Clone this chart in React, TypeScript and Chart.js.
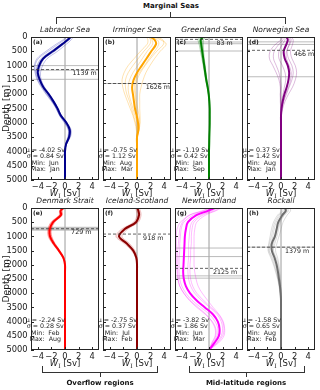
import React, { useEffect, useRef } from 'react';
import { Chart, registerables } from 'chart.js';
Chart.register(...registerables);

// ---------- DATA ----------
const depths = [0, 100, 250, 500, 750, 1000, 1250, 1500, 1750, 2000, 2250, 2500, 2750, 3000, 3250, 3500, 3750, 4000, 4250, 4500, 4750, 5000];
const xTickValues = [-4, -2, 0, 2, 4];
const yTickValues = [0, 500, 1000, 1500, 2000, 2500, 3000, 3500, 4000, 4500, 5000];

const labradorMean = [0.8, 0.4, -0.4, -1.8, -3.2, -3.8, -4.0, -3.7, -3.2, -2.4, -1.7, -1.1, -0.6, 0.2, 0.7, 0.6, 0.15, 0, 0, 0, 0, 0];
const labradorMonths = [
  [1.2, 0.9, 0.2, -1.1, -2.6, -3.3, -3.6, -3.5, -3.0, -2.3, -1.6, -1.0, -0.5, 0.3, 0.9, 0.8, 0.2, 0, 0, 0, 0, 0],
  [1.0, 0.6, -0.2, -1.5, -3.0, -3.6, -3.8, -3.6, -3.1, -2.4, -1.7, -1.1, -0.6, 0.2, 0.7, 0.7, 0.2, 0, 0, 0, 0, 0],
  [0.6, 0.2, -0.6, -2.1, -3.5, -4.1, -4.2, -3.9, -3.3, -2.6, -1.9, -1.2, -0.7, 0.1, 0.6, 0.5, 0.1, 0, 0, 0, 0, 0],
  [0.3, -0.1, -1.0, -2.5, -3.9, -4.4, -4.3, -4.0, -3.4, -2.7, -1.9, -1.3, -0.8, 0.0, 0.5, 0.5, 0.1, 0, 0, 0, 0, 0],
  [0.9, 0.5, -0.3, -1.8, -3.3, -4.0, -4.1, -3.8, -3.2, -2.5, -1.8, -1.1, -0.6, 0.3, 0.8, 0.7, 0.2, 0, 0, 0, 0, 0],
  [0.1, -0.3, -1.3, -2.8, -4.1, -4.5, -4.4, -4.1, -3.5, -2.8, -2.0, -1.3, -0.8, -0.1, 0.5, 0.4, 0.1, 0, 0, 0, 0, 0],
];
const labradorDashed = 1139;
const labradorGray = [1000, 1160, 1480];
const labradorStats = ['μ = -4.02 Sv', 'σ = 0.84 Sv', 'Min:  Jun', 'Max:  Jan'];

const irmingerMean = [2.0, 2.6, 2.8, 2.1, 1.4, 0.7, 0.0, -0.5, -0.72, -0.6, -0.45, -0.3, -0.05, 0.15, 0.2, 0, 0, 0, 0, 0, 0, 0];
const irmingerMonths = [
  [2.5, 3.5, 4.3, 3.4, 2.6, 1.9, 1.3, 0.9, 0.6, 0.4, 0.4, 0.4, 0.45, 0.45, 0.3, 0, 0, 0, 0, 0, 0, 0],
  [1.4, 1.6, 1.5, 0.5, -0.4, -1.3, -1.9, -2.2, -2.1, -1.8, -1.4, -1.0, -0.6, -0.3, -0.1, 0, 0, 0, 0, 0, 0, 0],
  [2.2, 3.0, 3.2, 2.6, 1.8, 1.1, 0.3, -0.2, -0.4, -0.3, -0.2, -0.1, 0.1, 0.3, 0.3, 0, 0, 0, 0, 0, 0, 0],
  [1.8, 2.2, 2.3, 1.5, 0.8, 0.1, -0.6, -1.1, -1.3, -1.2, -0.9, -0.6, -0.3, 0.0, 0.1, 0, 0, 0, 0, 0, 0, 0],
  [2.8, 3.8, 3.9, 2.9, 2.0, 1.2, 0.5, 0.0, -0.2, -0.2, -0.1, 0.1, 0.3, 0.4, 0.2, 0, 0, 0, 0, 0, 0, 0],
  [1.6, 2.0, 1.9, 1.0, 0.2, -0.6, -1.3, -1.7, -1.7, -1.5, -1.1, -0.8, -0.5, -0.2, 0.0, 0, 0, 0, 0, 0, 0, 0],
];
const irmingerDashed = 1626;
const irmingerGray = [1626];
const irmingerStats = ['μ = -0.75 Sv', 'σ = 1.12 Sv', 'Min:  Aug', 'Max:  Mar'];

const greenlandMean = [-0.9, -1.2, -1.15, -1.0, -0.85, -0.7, -0.55, -0.4, -0.2, -0.05, 0.05, 0.1, 0.1, 0.1, 0.08, 0.05, 0.03, 0, 0, 0, 0, 0];
const greenlandMonths = [
  [-0.5, -0.8, -0.85, -0.8, -0.7, -0.55, -0.45, -0.3, -0.15, 0, 0.1, 0.12, 0.12, 0.1, 0.08, 0.05, 0.03, 0, 0, 0, 0, 0],
  [-1.3, -1.6, -1.45, -1.25, -1.05, -0.85, -0.68, -0.5, -0.28, -0.1, 0.02, 0.08, 0.1, 0.1, 0.08, 0.05, 0.03, 0, 0, 0, 0, 0],
  [-0.7, -1.0, -1.0, -0.9, -0.78, -0.62, -0.5, -0.35, -0.18, -0.03, 0.06, 0.1, 0.1, 0.1, 0.08, 0.05, 0.03, 0, 0, 0, 0, 0],
  [-1.1, -1.4, -1.3, -1.12, -0.95, -0.78, -0.62, -0.46, -0.24, -0.07, 0.04, 0.09, 0.1, 0.1, 0.08, 0.05, 0.03, 0, 0, 0, 0, 0],
];
const greenlandDashed = 83;
const greenlandGray = [175, 235, 490];
const greenlandStats = ['μ = -1.19 Sv', 'σ = 0.42 Sv', 'Min:  Jan', 'Max:  Sep'];

const norwegianMean = [0.8, 1.0, 0.8, 0.4, 0.55, 1.0, 1.2, 1.1, 0.85, 0.5, 0.25, 0.08, 0, 0, 0, 0, 0, 0, 0, 0, 0, 0];
const norwegianMonths = [
  [1.5, 1.8, 1.7, 1.4, 1.6, 2.1, 2.3, 2.1, 1.7, 1.1, 0.6, 0.25, 0.05, 0, 0, 0, 0, 0, 0, 0, 0, 0],
  [0.2, 0.3, -0.3, -1.0, -1.1, -0.7, -0.3, -0.1, 0.0, -0.1, -0.1, -0.05, 0, 0, 0, 0, 0, 0, 0, 0, 0, 0],
  [1.0, 1.3, 1.2, 0.9, 1.1, 1.6, 1.8, 1.6, 1.2, 0.8, 0.4, 0.15, 0.02, 0, 0, 0, 0, 0, 0, 0, 0, 0],
  [0.5, 0.6, 0.2, -0.3, -0.3, 0.2, 0.6, 0.7, 0.5, 0.3, 0.1, 0.02, 0, 0, 0, 0, 0, 0, 0, 0, 0, 0],
  [1.3, 1.5, 1.3, 0.8, 0.8, 1.2, 1.5, 1.4, 1.1, 0.7, 0.35, 0.1, 0, 0, 0, 0, 0, 0, 0, 0, 0, 0],
  [0.0, 0.0, -0.8, -1.6, -1.7, -1.2, -0.7, -0.3, -0.1, -0.1, -0.05, 0, 0, 0, 0, 0, 0, 0, 0, 0, 0, 0],
];
const norwegianDashed = 466;
const norwegianGray = [170, 260, 1390];
const norwegianStats = ['μ = 0.37 Sv', 'σ = 1.42 Sv', 'Min:  Aug', 'Max:  Jan'];

const denmarkMean = [-0.25, -0.65, -0.6, -1.75, -2.24, -2.2, -1.65, -0.9, -0.25, 0, 0, 0, 0, 0, 0, 0, 0, 0, 0, 0, 0, 0];
const denmarkMonths = [
  [-0.1, -0.4, -0.4, -1.5, -2.0, -1.95, -1.45, -0.75, -0.15, 0, 0, 0, 0, 0, 0, 0, 0, 0, 0, 0, 0, 0],
  [-0.4, -0.8, -0.85, -2.05, -2.5, -2.45, -1.85, -1.05, -0.3, 0, 0, 0, 0, 0, 0, 0, 0, 0, 0, 0, 0, 0],
  [-0.2, -0.55, -0.5, -1.65, -2.1, -2.05, -1.55, -0.85, -0.2, 0, 0, 0, 0, 0, 0, 0, 0, 0, 0, 0, 0, 0],
  [-0.35, -0.7, -0.75, -1.95, -2.4, -2.35, -1.75, -0.95, -0.3, 0, 0, 0, 0, 0, 0, 0, 0, 0, 0, 0, 0, 0],
];
const denmarkDashed = 729;
const denmarkGray = [680, 710, 750, 780];
const denmarkStats = ['μ = -2.24 Sv', 'σ = 0.28 Sv', 'Min:  Feb', 'Max:  Aug'];

const icelandMean = [0.05, 0.2, 0.3, -0.15, -1.85, -2.65, -1.5, -0.55, -0.1, 0, 0, 0, 0, 0, 0, 0, 0, 0, 0, 0, 0, 0];
const icelandMonths = [
  [0.3, 0.5, 0.6, 0.2, -1.4, -2.2, -1.1, -0.3, 0.0, 0, 0, 0, 0, 0, 0, 0, 0, 0, 0, 0, 0, 0],
  [-0.2, -0.1, 0.0, -0.5, -2.3, -3.1, -1.9, -0.8, -0.2, 0, 0, 0, 0, 0, 0, 0, 0, 0, 0, 0, 0, 0],
  [0.15, 0.35, 0.45, 0.05, -1.6, -2.4, -1.3, -0.45, -0.05, 0, 0, 0, 0, 0, 0, 0, 0, 0, 0, 0, 0, 0],
  [-0.1, 0.05, 0.15, -0.35, -2.1, -2.95, -1.7, -0.65, -0.15, 0, 0, 0, 0, 0, 0, 0, 0, 0, 0, 0, 0, 0],
];
const icelandDashed = 918;
const icelandGray: number[] = [];
const icelandStats = ['μ = -2.75 Sv', 'σ = 0.37 Sv', 'Min:  Jul', 'Max:  Feb'];

const newfoundlandMean = [0.8, -0.15, -1.85, -3.1, -3.4, -3.55, -3.6, -3.65, -3.7, -3.75, -3.8, -3.7, -3.4, -2.8, -1.85, -0.6, 0.6, 1.3, 1.55, 1.45, 0.8, 0];
const newfoundlandMonths = [
  [1.8, 1.0, -0.5, -1.8, -2.1, -2.2, -2.2, -2.2, -2.2, -2.2, -2.1, -1.9, -1.6, -1.0, -0.2, 0.6, 1.5, 2.1, 2.3, 2.2, 1.4, 0],
  [0.2, -0.8, -2.8, -4.2, -4.7, -4.8, -4.8, -4.8, -4.8, -4.8, -4.7, -4.6, -4.3, -3.7, -2.8, -1.6, -0.4, 0.4, 0.9, 0.9, 0.4, 0],
  [1.2, 0.4, -1.2, -2.5, -2.8, -2.9, -3.0, -3.0, -3.0, -3.1, -3.1, -3.0, -2.7, -2.1, -1.1, 0.1, 1.2, 1.8, 2.0, 1.8, 1.1, 0],
  [0.5, -0.5, -2.3, -3.7, -4.1, -4.2, -4.3, -4.3, -4.4, -4.4, -4.4, -4.3, -4.0, -3.4, -2.5, -1.2, 0.1, 0.9, 1.3, 1.2, 0.6, 0],
  [1.5, 0.8, -0.9, -2.2, -2.5, -2.6, -2.6, -2.7, -2.7, -2.8, -2.8, -2.7, -2.4, -1.8, -0.8, 0.3, 1.4, 2.0, 2.2, 2.0, 1.2, 0],
  [0.0, -1.0, -2.9, -3.9, -4.3, -4.4, -4.5, -4.6, -4.6, -4.6, -4.6, -4.5, -4.3, -3.7, -2.9, -1.8, -0.5, 0.5, 1.0, 1.0, 0.5, 0],
];
const newfoundlandDashed = 2125;
const newfoundlandGray = [1410, 1710, 2390, 2470];
const newfoundlandStats = ['μ = -3.82 Sv', 'σ = 1.86 Sv', 'Min:  Jun', 'Max:  Mar'];

const rockallMean = [0.6, 0.7, 0.2, -0.4, -0.65, -0.9, -1.35, -1.35, -0.95, -0.65, -0.45, -0.3, -0.15, -0.05, 0, 0, 0, 0, 0, 0, 0, 0];
const rockallMonths = [
  [1.3, 1.4, 0.9, 0.3, 0.0, -0.3, -0.6, -0.8, -0.5, -0.3, -0.2, -0.1, 0, 0, 0, 0, 0, 0, 0, 0, 0, 0],
  [-0.1, 0.1, -0.5, -1.1, -1.4, -1.6, -1.8, -1.9, -1.5, -1.1, -0.8, -0.5, -0.3, -0.15, -0.05, 0, 0, 0, 0, 0, 0, 0],
  [0.9, 1.1, 0.5, -0.1, -0.35, -0.6, -0.9, -1.1, -0.7, -0.4, -0.25, -0.15, -0.05, 0, 0, 0, 0, 0, 0, 0, 0, 0],
  [0.3, 0.5, -0.1, -0.7, -1.0, -1.2, -1.5, -1.7, -1.2, -0.85, -0.6, -0.4, -0.2, -0.1, 0, 0, 0, 0, 0, 0, 0, 0],
  [0.7, 0.9, 0.4, -0.2, -0.5, -0.8, -1.1, -1.2, -0.85, -0.55, -0.35, -0.2, -0.1, 0, 0, 0, 0, 0, 0, 0, 0, 0],
  [0.1, 0.3, -0.3, -0.9, -1.2, -1.4, -1.7, -1.8, -1.35, -1.0, -0.7, -0.45, -0.25, -0.1, 0, 0, 0, 0, 0, 0, 0, 0],
];
const rockallDashed = 1379;
const rockallGray = [1379];
const rockallStats = ['μ = -1.58 Sv', 'σ = 0.65 Sv', 'Min:  Aug', 'Max:  Feb'];

// ---------- LAYOUT / STYLE ----------
const FONT = 'DejaVu Sans';
const COL_LEFT = [31, 103, 175, 247];
const ROW_TOP = [37, 208];
const ROW_H = [143, 142];
const PLOT_W = 68;
const M_LEFT = 31, M_RIGHT = 5, M_TOP = 14, M_BOTTOM = 22;

type Panel = {
  title: string; letter: string; color: string; thin: string;
  mean: number[]; months: number[][]; dashed: number; gray: number[];
  labelX: number; stats: string[]; col: number; row: number;
};

const panels: Panel[] = [
  { title: 'Labrador Sea', letter: '(a)', color: '#00008b', thin: 'rgba(0,0,160,0.28)', mean: labradorMean, months: labradorMonths, dashed: labradorDashed, gray: labradorGray, labelX: 1.1, stats: labradorStats, col: 0, row: 0 },
  { title: 'Irminger Sea', letter: '(b)', color: '#ffa500', thin: 'rgba(255,165,0,0.35)', mean: irmingerMean, months: irmingerMonths, dashed: irmingerDashed, gray: irmingerGray, labelX: 1.3, stats: irmingerStats, col: 1, row: 0 },
  { title: 'Greenland Sea', letter: '(c)', color: '#008000', thin: 'rgba(0,128,0,0.35)', mean: greenlandMean, months: greenlandMonths, dashed: greenlandDashed, gray: greenlandGray, labelX: 1.1, stats: greenlandStats, col: 2, row: 0 },
  { title: 'Norwegian Sea', letter: '(d)', color: '#800080', thin: 'rgba(128,0,128,0.3)', mean: norwegianMean, months: norwegianMonths, dashed: norwegianDashed, gray: norwegianGray, labelX: 1.9, stats: norwegianStats, col: 3, row: 0 },
  { title: 'Denmark Strait', letter: '(e)', color: '#ff0000', thin: 'rgba(255,0,0,0.4)', mean: denmarkMean, months: denmarkMonths, dashed: denmarkDashed, gray: denmarkGray, labelX: 0.9, stats: denmarkStats, col: 0, row: 1 },
  { title: 'Iceland-Scotland', letter: '(f)', color: '#8b0000', thin: 'rgba(200,40,40,0.3)', mean: icelandMean, months: icelandMonths, dashed: icelandDashed, gray: icelandGray, labelX: 0.9, stats: icelandStats, col: 1, row: 1 },
  { title: 'Newfoundland', letter: '(g)', color: '#ff00ff', thin: 'rgba(255,0,255,0.3)', mean: newfoundlandMean, months: newfoundlandMonths, dashed: newfoundlandDashed, gray: newfoundlandGray, labelX: 0.6, stats: newfoundlandStats, col: 2, row: 1 },
  { title: 'Rockall', letter: '(h)', color: '#6e6e6e', thin: 'rgba(128,128,128,0.3)', mean: rockallMean, months: rockallMonths, dashed: rockallDashed, gray: rockallGray, labelX: 0.6, stats: rockallStats, col: 3, row: 1 },
];

const fmtX = (v: number) => (v < 0 ? '\u2212' + Math.abs(v) : String(v));

function PanelChart({ p }: { p: Panel }) {
  const ref = useRef<HTMLCanvasElement | null>(null);
  const w = M_LEFT + PLOT_W + M_RIGHT;
  const h = M_TOP + ROW_H[p.row] + M_BOTTOM;
  const left = COL_LEFT[p.col] - M_LEFT;
  const top = ROW_TOP[p.row] - M_TOP;

  useEffect(() => {
    const canvas = ref.current!;
    const toPts = (vals: number[]) => vals.map((v, i) => ({ x: v, y: depths[i] }));
    const base = { showLine: true, pointRadius: 0, fill: false };
    const datasets: any[] = [];
    datasets.push({ ...base, data: [{ x: 0, y: 0 }, { x: 0, y: 5000 }], borderColor: '#c6c6c6', borderWidth: 1, order: 10, tension: 0 });
    p.gray.forEach((d) => datasets.push({ ...base, data: [{ x: -5, y: d }, { x: 5, y: d }], borderColor: '#a9a9a9', borderWidth: 0.8, order: 9, tension: 0 }));
    p.months.forEach((m) => datasets.push({ ...base, data: toPts(m), borderColor: p.thin, borderWidth: 0.9, order: 5, tension: 0.35 }));
    datasets.push({ ...base, data: toPts(p.mean), borderColor: p.color, borderWidth: 2, order: 2, tension: 0.35 });
    datasets.push({ ...base, data: [{ x: -5, y: p.dashed }, { x: 5, y: p.dashed }], borderColor: '#3a3a3a', borderWidth: 0.8, borderDash: [3, 2], order: 1, tension: 0 });

    const decor = {
      id: 'decor',
      afterDraw(chart: any) {
        const { ctx, chartArea: a, scales } = chart;
        const xs = scales.x, ys = scales.y;
        ctx.save();
        ctx.strokeStyle = '#262626';
        ctx.lineWidth = 1;
        ctx.strokeRect(a.left + 0.5, a.top + 0.5, a.right - a.left - 1, a.bottom - a.top - 1);
        ctx.beginPath();
        ys.ticks.forEach((t: any) => {
          const y = Math.round(ys.getPixelForValue(t.value)) + 0.5;
          ctx.moveTo(a.left, y); ctx.lineTo(a.left + 3, y);
        });
        xs.ticks.forEach((t: any) => {
          const x = Math.round(xs.getPixelForValue(t.value)) + 0.5;
          ctx.moveTo(x, a.bottom); ctx.lineTo(x, a.bottom - 3);
        });
        ctx.stroke();
        ctx.fillStyle = '#1a1a1a';
        // title
        ctx.font = `italic 7.5px "${FONT}"`;
        ctx.textAlign = 'center';
        ctx.textBaseline = 'middle';
        ctx.fillText(p.title, (a.left + a.right) / 2, a.top - 6.5);
        // letter
        ctx.font = `bold 6px "${FONT}"`;
        ctx.textAlign = 'left';
        ctx.textBaseline = 'top';
        ctx.fillText(p.letter, a.left + 2, a.top + 2);
        // depth label
        ctx.font = `6.3px "${FONT}"`;
        ctx.fillText(`${p.dashed} m`, xs.getPixelForValue(p.labelX), ys.getPixelForValue(p.dashed) + 1);
        // stats
        ctx.textAlign = 'center';
        ctx.textBaseline = 'middle';
        const sx = xs.getPixelForValue(-2.9);
        p.stats.forEach((s, i) => ctx.fillText(s, sx, a.bottom - 30 + i * 6.6));
        // x title W_I [Sv]
        const cy = a.bottom + 14;
        const f1 = `italic 8.5px "${FONT}"`, f2 = `6px "DejaVu Serif"`, f3 = `8.5px "${FONT}"`;
        ctx.font = f1; const w1 = ctx.measureText('W').width;
        ctx.font = f2; const w2 = ctx.measureText('I').width;
        ctx.font = f3; const w3 = ctx.measureText(' [Sv]').width;
        let x0 = (a.left + a.right) / 2 - (w1 + w2 + w3) / 2;
        ctx.textAlign = 'left';
        ctx.font = f1; ctx.fillText('W', x0, cy); x0 += w1;
        ctx.font = f2; ctx.fillText('I', x0, cy + 2.5); x0 += w2;
        ctx.font = f3; ctx.fillText(' [Sv]', x0, cy);
        ctx.restore();
      },
    };

    const chart = new Chart(canvas, {
      type: 'scatter',
      data: { datasets },
      options: {
        responsive: false,
        animation: false,
        events: [],
        layout: { padding: { top: M_TOP, right: M_RIGHT, left: 0, bottom: 0 } },
        plugins: { legend: { display: false }, tooltip: { enabled: false } },
        scales: {
          x: {
            type: 'linear', min: -5, max: 5, position: 'bottom',
            afterBuildTicks: (s: any) => { s.ticks = xTickValues.map((v) => ({ value: v })); },
            afterFit: (s: any) => { s.height = M_BOTTOM; },
            grid: { display: false, drawTicks: false },
            border: { display: false },
            ticks: { callback: (v: any) => fmtX(Number(v)), font: { family: FONT, size: 8.3 }, color: '#1a1a1a', padding: 1.5, maxRotation: 0, autoSkip: false },
          },
          y: {
            type: 'linear', min: 0, max: 5000, reverse: true, position: 'left',
            afterBuildTicks: (s: any) => { s.ticks = yTickValues.map((v) => ({ value: v })); },
            afterFit: (s: any) => { s.width = M_LEFT; },
            grid: { display: false, drawTicks: false },
            border: { display: false },
            ticks: { display: p.col === 0, callback: (v: any) => String(v), font: { family: FONT, size: 8.3 }, color: '#1a1a1a', padding: 3.5, autoSkip: false },
            title: { display: p.col === 0, text: 'Depth [m]', font: { family: FONT, size: 9.2 }, color: '#1a1a1a', padding: { top: 1.5, bottom: 0 } },
          },
        },
      } as any,
      plugins: [decor],
    });
    return () => chart.destroy();
  }, []);

  return <canvas ref={ref} width={w} height={h} style={{ position: 'absolute', left, top, width: w, height: h }} />;
}

const line = (l: number, t: number, w: number, h: number) => (
  <div style={{ position: 'absolute', left: l, top: t, width: w, height: h, background: '#333' }} />
);

export default function App() {
  return (
    <div style={{ position: 'absolute', left: 0, top: 0, width: 320, height: 390, background: '#fff', fontFamily: FONT, overflow: 'hidden' }}>
      <div style={{ position: 'absolute', left: 111, top: 0, width: 120, textAlign: 'center', fontSize: 7, fontWeight: 'bold', lineHeight: '12px', color: '#111' }}>Marginal Seas</div>
      {line(56, 17, 230, 1)}
      {line(56, 17, 1, 7)}
      {line(285, 17, 1, 7)}
      {line(170, 12, 1, 5)}
      {panels.map((p, i) => <PanelChart key={i} p={p} />)}
      {line(42, 372, 116, 1)}
      {line(42, 366, 1, 7)}
      {line(157, 366, 1, 7)}
      {line(100, 372, 1, 5)}
      <div style={{ position: 'absolute', left: 40, top: 377, width: 120, textAlign: 'center', fontSize: 7, fontWeight: 'bold', lineHeight: '12px', color: '#111' }}>Overflow regions</div>
      {line(189, 372, 116, 1)}
      {line(189, 366, 1, 7)}
      {line(304, 366, 1, 7)}
      {line(246, 372, 1, 5)}
      <div style={{ position: 'absolute', left: 186, top: 377, width: 120, textAlign: 'center', fontSize: 7, fontWeight: 'bold', lineHeight: '12px', color: '#111' }}>Mid-latitude regions</div>
    </div>
  );
}
